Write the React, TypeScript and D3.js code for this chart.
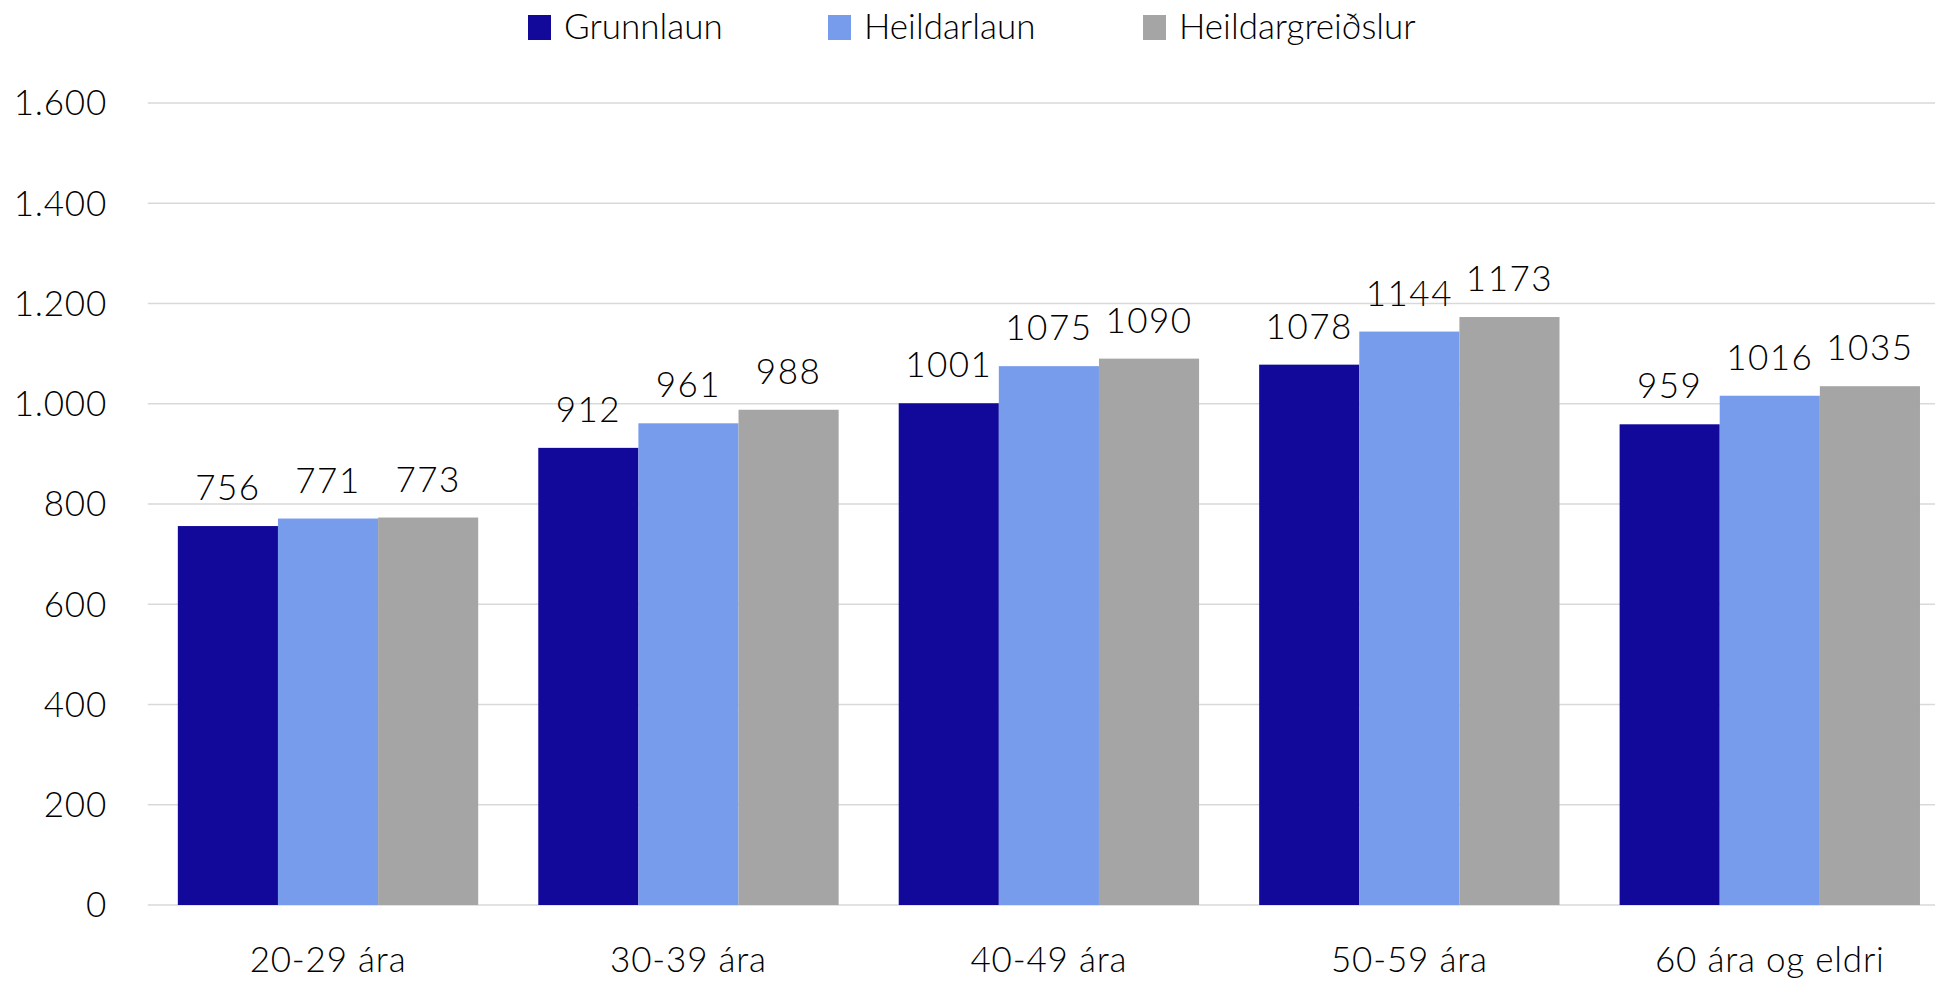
import React from "react";
import * as d3 from "d3";

const categories = ["20-29 ára", "30-39 ára", "40-49 ára", "50-59 ára", "60 ára og eldri"];
const seriesNames = ["Grunnlaun", "Heildarlaun", "Heildargreiðslur"];
const grunnlaun = [756, 912, 1001, 1078, 959];
const heildarlaun = [771, 961, 1075, 1144, 1016];
const heildargreidslur = [773, 988, 1090, 1173, 1035];
const seriesColors = ["#12099A", "#779CEB", "#A5A5A5"];
const yTicks = [0, 200, 400, 600, 800, 1000, 1200, 1400, 1600];

const W = 1935;
const H = 983;
const FONT = "Lato, 'Noto Sans', sans-serif";
const FS = 35;

export default function App() {
  React.useEffect(() => {
    document.body.style.margin = "0";
    document.body.style.overflow = "hidden";
  }, []);

  const seriesValues = [grunnlaun, heildarlaun, heildargreidslur];
  const y = d3.scaleLinear().domain([0, 1600]).range([905, 103]);
  const x0 = d3.scaleBand<string>().domain(categories).range([147.8, 1950]).paddingInner(0).paddingOuter(0);
  const x1 = d3.scaleBand<string>().domain(seriesNames).range([0, x0.bandwidth()]).paddingInner(0).paddingOuter(0.3);
  const locale = d3.formatLocale({ decimal: ",", thousands: ".", grouping: [3], currency: ["", ""] });
  const fmt = locale.format(",d");

  const legendX = [528, 828, 1143];

  return (
    <svg width={W} height={H} style={{ position: "absolute", left: 0, top: 0, background: "#fff" }} fontFamily={FONT}>
      {yTicks.map((t) => (
        <g key={t}>
          <line x1={147.8} x2={W} y1={y(t)} y2={y(t)} stroke="#D9D9D9" strokeWidth={1.5} />
          <text x={107} y={y(t)} dy="0.35em" textAnchor="end" fontSize={FS} fontWeight={300} letterSpacing={0.8} fill="#000">
            {fmt(t)}
          </text>
        </g>
      ))}
      {categories.map((c, ci) => (
        <g key={c} transform={`translate(${x0(c)},0)`}>
          {seriesNames.map((s, si) => {
            const v = seriesValues[si][ci];
            const bx = x1(s)!;
            const bw = x1.bandwidth();
            return (
              <g key={s}>
                <rect x={bx} y={y(v)} width={bw} height={y(0) - y(v)} fill={seriesColors[si]} />
                <text x={bx + bw / 2} y={y(v) - 26} textAnchor="middle" fontSize={FS} fontWeight={300} letterSpacing={1.5} fill="#000">
                  {v}
                </text>
              </g>
            );
          })}
          <text x={x0.bandwidth() / 2} y={972} textAnchor="middle" fontSize={FS} fontWeight={300} letterSpacing={0.8} fill="#000">
            {c}
          </text>
        </g>
      ))}
      {seriesNames.map((s, si) => (
        <g key={s}>
          <rect x={legendX[si]} y={15} width={23} height={25} fill={seriesColors[si]} />
          <text x={legendX[si] + 36} y={39} fontSize={FS} fontWeight={300} fill="#000">
            {s}
          </text>
        </g>
      ))}
    </svg>
  );
}
